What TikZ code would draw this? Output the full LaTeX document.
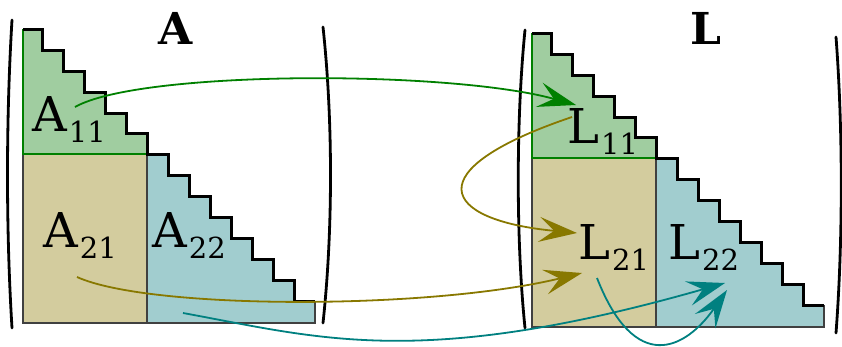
\documentclass[tikz,border=0pt]{standalone}
\usepackage{fontspec}
\setmainfont{DejaVu Serif}
\usetikzlibrary{arrows.meta}
\definecolor{cgreen}{RGB}{0,128,0}
\definecolor{colive}{RGB}{136,120,0}
\definecolor{cteal}{RGB}{0,128,128}
\definecolor{fgreen}{RGB}{160,205,160}
\definecolor{folive}{RGB}{211,204,158}
\definecolor{fteal}{RGB}{161,205,207}
\tikzset{
  blk/.style={line width=1.2pt, draw=black!75},
  stair/.style={line width=3pt, draw=black, line join=miter},
  paren/.style={line width=2.8pt, line cap=round},
  conn/.style={line width=1.8pt, -{Stealth[length=38pt,width=25pt,inset=15pt]}},
  lbl/.style={anchor=base west, inner sep=0pt, font=\fontsize{48}{48}\selectfont},
  ttl/.style={anchor=base, inner sep=0pt, font=\fontsize{44}{44}\selectfont\bfseries},
}
\newcommand{\sbs}[1]{\kern2pt\raisebox{-11pt}{\fontsize{29}{29}\selectfont #1}}
\newcommand{\blockmat}{%
  \fill[fgreen] (23,154) -- (23,29) -- (42,29) -- (42,50) -- (63,50) -- (63,71) -- (84,71) -- (84,92) -- (105,92) -- (105,113) -- (126,113) -- (126,133) -- (147,133) -- (147,154) -- cycle;
  \fill[folive] (23,154) rectangle (147,323);
  \fill[fteal] (147,323) -- (147,154) -- (168,154) -- (168,175) -- (189,175) -- (189,196) -- (210,196) -- (210,217) -- (231,217) -- (231,238) -- (252,238) -- (252,259) -- (273,259) -- (273,280) -- (294,280) -- (294,301) -- (315,301) -- (315,323) -- cycle;
  \draw[blk] (23,154) rectangle (147,323);
  \draw[blk] (147,323) -- (315,323) -- (315,301);
  \draw[line width=1.2pt, draw=cgreen] (23,29) -- (23,154) -- (147,154);
  \draw[stair] (23,29) -- (42,29) -- (42,50) -- (63,50) -- (63,71) -- (84,71) -- (84,92) -- (105,92) -- (105,113) -- (126,113) -- (126,133) -- (147,133) -- (147,154) -- (168,154) -- (168,175) -- (189,175) -- (189,196) -- (210,196) -- (210,217) -- (231,217) -- (231,238) -- (252,238) -- (252,259) -- (273,259) -- (273,280) -- (294,280) -- (294,301) -- (315,301);
}
\begin{document}
\begin{tikzpicture}[x=1pt,y=-1pt]
\useasboundingbox (0,0) rectangle (842,346);
% matrix A
\begin{scope}
  \blockmat
\end{scope}
% matrix L
\begin{scope}[shift={(509,4)}]
  \blockmat
\end{scope}
% parentheses
\draw[paren] (12,20) .. controls (6,120) and (6,230) .. (12,328);
\draw[paren] (323,27) .. controls (333,120) and (333,230) .. (323,323);
\draw[paren] (525,30) .. controls (516,120) and (516,240) .. (525,328);
\draw[paren] (836,37) .. controls (843,130) and (843,240) .. (836,333);
% titles
\node[ttl] (tA) at (176,44) {A};
\node[ttl] (tL) at (706,44) {L};
% labels
\node[lbl] (a11) at (32,131) {A\sbs{11}};
\node[lbl] (a21) at (43,247) {A\sbs{21}};
\node[lbl] (a22) at (152,247) {A\sbs{22}};
\node[lbl] (l11) at (567,143) {L\sbs{11}};
\node[lbl] (l21) at (578,259) {L\sbs{21}};
\node[lbl] (l22) at (668,259) {L\sbs{22}};
% connector end points
\coordinate (ga) at (75,107);
\coordinate (gb) at (576,105);
\coordinate (oa) at (572,117);
\coordinate (ob) at (577,233);
\coordinate (pa) at (77,277);
\coordinate (pb) at (582,273);
\coordinate (ta) at (183,313);
\coordinate (tb) at (725,283);
\coordinate (ua) at (597,278);
\coordinate (ub) at (727,290);
% connectors
\draw[conn, cgreen] (ga) .. controls (140,70) and (450,70) .. (gb);
\draw[conn, colive] (oa) .. controls (415,170) and (440,220) .. (ob);
\draw[conn, colive] (pa) .. controls (150,310) and (430,310) .. (pb);
\draw[conn, cteal] (ta) .. controls (320,338) and (420,370) .. (tb);
\draw[conn, cteal] (ua) .. controls (635,375) and (685,350) .. (ub);
\end{tikzpicture}
\end{document}
